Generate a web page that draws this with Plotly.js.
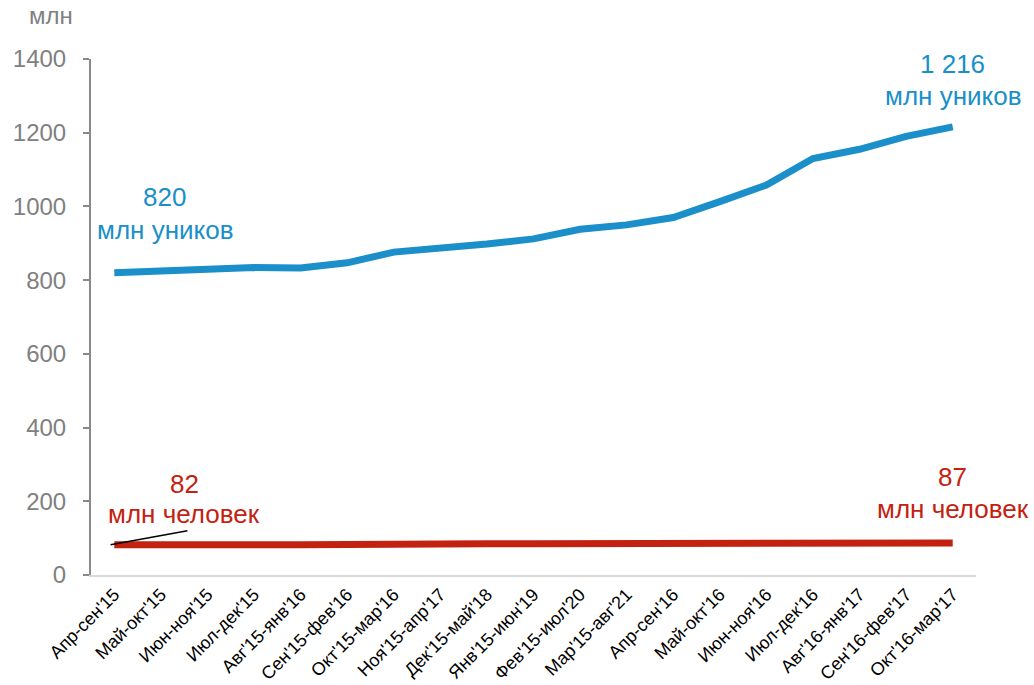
<!DOCTYPE html>
<html><head><meta charset="utf-8">
<script src="https://cdn.plot.ly/plotly-3.0.1.min.js"></script>
<style>body{margin:0;background:#fff}#c{width:1034px;height:685px}</style>
</head><body><div id="c"></div>
<script>
const categories = ["Апр-сен'15","Май-окт'15","Июн-ноя'15","Июл-дек'15","Авг'15-янв'16","Сен'15-фев'16","Окт'15-мар'16","Ноя'15-апр'17","Дек'15-май'18","Янв'15-июн'19","Фев'15-июл'20","Мар'15-авг'21","Апр-сен'16","Май-окт'16","Июн-ноя'16","Июл-дек'16","Авг'16-янв'17","Сен'16-фев'17","Окт'16-мар'17"];
const uniques = [820,824,827,834,833,847,876,886,898,912,938,950,970,1013,1058,1130,1155,1190,1216];
const people = [82,81,81,82,82,83,85,85,85,85,85,85,84,85,85,85,86,86,87];
const blue = '#1a8fc9', red = '#c42210';
const f = 'Liberation Sans, Arial, sans-serif';
const traces = [
 {x: categories, y: uniques, type:'scatter', mode:'lines', line:{color:blue, width:7}, hoverinfo:'skip'},
 {x: categories, y: people, type:'scatter', mode:'lines', line:{color:red, width:7}, hoverinfo:'skip'}
];
const ann = (x, y, text, color, yshift) => ({x, y, xref:'x', yref:'y', text, showarrow:false, font:{family:f, size:26, color}, yshift});
const layout = {
 width:1034, height:685, margin:{l:91, r:58, t:59, b:110},
 paper_bgcolor:'#fff', plot_bgcolor:'#fff', showlegend:false,
 xaxis:{type:'category', range:[-0.5,18.5], showgrid:false, zeroline:false, showline:true, linecolor:'#d9d9d9', linewidth:2,
   ticks:'', tickangle:-45, tickfont:{family:f, size:18, color:'#000'}},
 yaxis:{range:[0,1400], dtick:200, showgrid:false, zeroline:false, showline:true, linecolor:'#898989', linewidth:2,
   ticks:'outside', ticklen:6, tickcolor:'#898989', tickwidth:2, tickfont:{family:f, size:24, color:'#808080'}, ticklabelstandoff:12},
 annotations:[
  {xref:'paper', yref:'paper', x:-0.045, y:1.085, xanchor:'center', yanchor:'middle', text:'млн', showarrow:false, font:{family:f, size:24, color:'#808080'}},
  ann(1.08, uniques[0], '820', blue, 76),
  ann(1.08, uniques[0], 'млн уников', blue, 43),
  ann(18, uniques[18], '1 216', blue, 63),
  ann(18, uniques[18], 'млн уников', blue, 31),
  ann(1.5, people[0], '82', red, 61),
  ann(1.5, people[0], 'млн человек', red, 31),
  ann(18, people[18], '87', red, 66),
  ann(18, people[18], 'млн человек', red, 34)
 ],
 shapes:[{type:'line', xref:'x', yref:'y', x0:-0.08, y0:people[0], x1:1.57, y1:people[0]+38, line:{color:'#000', width:1.5}}]
};
Plotly.newPlot('c', traces, layout, {displayModeBar:false, staticPlot:true});
</script></body></html>
